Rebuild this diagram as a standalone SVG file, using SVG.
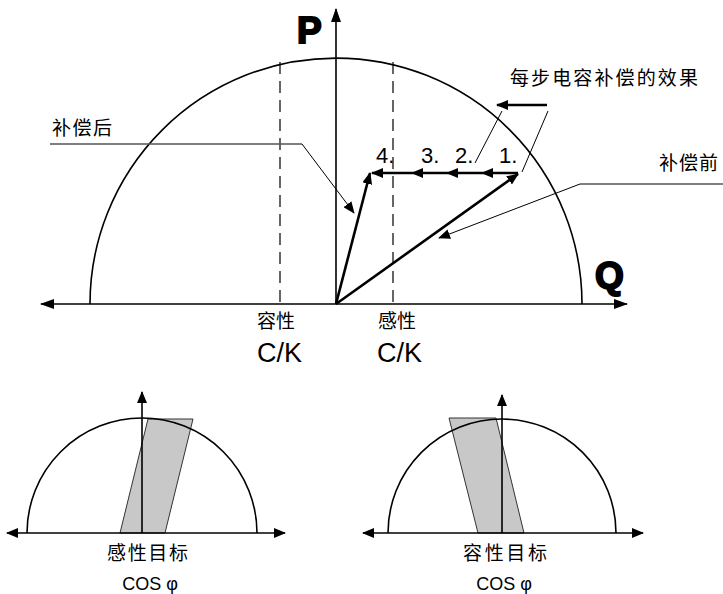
<svg xmlns="http://www.w3.org/2000/svg" width="723" height="594" viewBox="0 0 723 594">
<style>
.ln{stroke:#000;fill:none}
.ax{stroke:#000;stroke-width:1.6;fill:none}
.vec{stroke:#000;stroke-width:2.6;fill:none}
.thin{stroke:#000;stroke-width:1;fill:none}
.lead{stroke:#555;stroke-width:1.6;fill:none}
.dash{stroke:#000;stroke-width:1.2;stroke-dasharray:12,7;fill:none}
.arc{stroke:#000;stroke-width:1.6;fill:none}
.par{fill:#c8c8c8;stroke:#333;stroke-width:1}
.cjk{font-family:"Noto Sans CJK SC","Noto Sans",sans-serif;font-size:19px;fill:#000}
.lat{font-family:"Liberation Sans",Arial,sans-serif;fill:#000}
.big{font-family:"Liberation Sans",Arial,sans-serif;font-weight:bold;font-size:37px;fill:#000;stroke:#000;stroke-width:2}
</style>
<defs>
<marker id="ah" markerUnits="userSpaceOnUse" markerWidth="14" markerHeight="10" refX="13" refY="5" orient="auto"><path d="M0,0 L14,5 L0,10 z" fill="#000"/></marker>
<marker id="as" markerUnits="userSpaceOnUse" markerWidth="12" markerHeight="10" refX="11" refY="5" orient="auto"><path d="M0,0 L12,5 L0,10 z" fill="#000"/></marker>
</defs>

<g id="main-chart">
<path class="arc" d="M90,304 A246,246 0 0 1 582,304"/>
<line class="dash" x1="280" y1="62" x2="280" y2="304"/>
<line class="dash" x1="393" y1="62" x2="393" y2="304"/>
<line class="ax" x1="336" y1="304" x2="627" y2="304" marker-end="url(#ah)"/>
<line class="ax" x1="336" y1="304" x2="41" y2="304" marker-end="url(#ah)"/>
<line class="ax" x1="336" y1="304" x2="336" y2="9" marker-end="url(#ah)"/>
<text class="big" x="297" y="43">P</text>
<text class="big" x="595" y="288">Q</text>
<text class="cjk" x="257" y="328">容性</text>
<text class="cjk" x="378" y="328">感性</text>
<text class="lat" x="257" y="362" font-size="27">C/K</text>
<text class="lat" x="377" y="362" font-size="27">C/K</text>
</g>

<g id="connectors">
<line class="vec" x1="336" y1="304" x2="518" y2="174" marker-end="url(#as)"/>
<line class="vec" x1="336" y1="304" x2="370" y2="173" marker-end="url(#as)"/>
<line class="vec" x1="518" y1="173" x2="482" y2="173" marker-end="url(#as)"/>
<line class="vec" x1="482" y1="173" x2="447" y2="173" marker-end="url(#as)"/>
<line class="vec" x1="447" y1="173" x2="412" y2="173" marker-end="url(#as)"/>
<line class="vec" x1="412" y1="173" x2="372" y2="173" marker-end="url(#as)"/>
<line class="vec" x1="547" y1="105" x2="497" y2="105" marker-end="url(#as)"/>
<line class="thin" x1="502" y1="111" x2="475" y2="163"/>
<line class="thin" x1="548" y1="111" x2="522" y2="172"/>
<line class="lead" x1="50" y1="144" x2="302" y2="144"/>
<line class="thin" x1="302" y1="144" x2="354" y2="213" marker-end="url(#as)"/>
<line class="lead" x1="723" y1="184" x2="580" y2="184"/>
<line class="thin" x1="580" y1="184" x2="439" y2="238" marker-end="url(#as)"/>
</g>

<g id="labels">
<text class="cjk" x="510" y="85" textLength="188">每步电容补偿的效果</text>
<text class="cjk" x="659" y="170" textLength="59">补偿前</text>
<text class="cjk" x="52" y="135" textLength="60">补偿后</text>
<text class="lat" x="376" y="163" font-size="22">4.</text>
<text class="lat" x="421" y="163" font-size="22">3.</text>
<text class="lat" x="455" y="163" font-size="22">2.</text>
<text class="lat" x="499" y="163" font-size="22">1.</text>
</g>

<g id="inductive-target">
<polygon class="par" points="120,533 165,533 193,419 148,419"/>
<path class="arc" d="M27,533 A115,115 0 0 1 257,533"/>
<line class="ax" x1="142" y1="533" x2="285" y2="533" marker-end="url(#as)"/>
<line class="ax" x1="142" y1="533" x2="7" y2="533" marker-end="url(#as)"/>
<line class="ax" x1="142" y1="533" x2="142" y2="392" marker-end="url(#as)"/>
<text class="cjk" x="107" y="560" textLength="81">感性目标</text>
<text class="lat" x="150" y="590" font-size="18" text-anchor="middle">COS φ</text>
</g>

<g id="capacitive-target">
<polygon class="par" points="478,533 524,533 496,418 449,418"/>
<path class="arc" d="M388,533 A114,114 0 0 1 616,533"/>
<line class="ax" x1="502" y1="533" x2="643" y2="533" marker-end="url(#as)"/>
<line class="ax" x1="502" y1="533" x2="363" y2="533" marker-end="url(#as)"/>
<line class="ax" x1="502" y1="533" x2="502" y2="395" marker-end="url(#as)"/>
<text class="cjk" x="463" y="560" textLength="84">容性目标</text>
<text class="lat" x="504" y="590" font-size="18" text-anchor="middle">COS φ</text>
</g>
</svg>
